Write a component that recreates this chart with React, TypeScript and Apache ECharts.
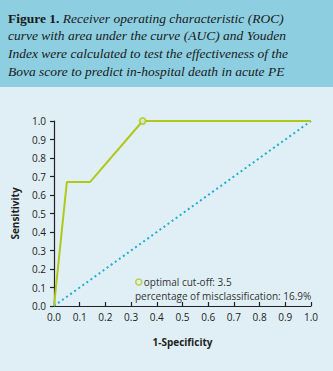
import React, { useEffect, useRef } from "react";
import * as echarts from "echarts";

const titleLines = [
  "Receiver operating characteristic (ROC)",
  "curve with area under the curve (AUC) and Youden",
  "Index were calculated to test the effectiveness of the",
  "Bova score to predict in-hospital death in acute PE",
];
const rocFpr = [0, 0.05, 0.14, 0.345, 1.0];
const rocTpr = [0, 0.67, 0.67, 1.0, 1.0];
const refX = [0, 1];
const refY = [0, 1];
const cutoffPoint = [0.345, 1.0];
const cutoffLabel = "optimal cut-off: 3.5";
const misclassLabel = "percentage of misclassification: 16.9%";
const xTicks = ["0.0", "0.1", "0.2", "0.3", "0.4", "0.5", "0.6", "0.7", "0.8", "0.9", "1.0"];

const GREEN = "#b0c81a";
const BLUE = "#1eaed2";
const BG = "#e0eff6";
const SANS = "'Open Sans', 'Noto Sans', sans-serif";
const SERIF = "'Liberation Serif', 'DejaVu Serif', serif";

export default function App() {
  const ref = useRef<HTMLDivElement>(null);
  useEffect(() => {
    document.body.style.margin = "0";
    const chart = echarts.init(ref.current!, undefined, { renderer: "svg" });
    const fmt = (v: number) => xTicks[Math.round(v * 10)] ?? v.toFixed(1);
    chart.setOption({
      animation: false,
      backgroundColor: BG,
      grid: { left: 54, right: 22, top: 121, bottom: 65 },
      legend: {
        left: 135,
        top: 277,
        itemWidth: 6,
        itemHeight: 6,
        itemGap: 0,
        padding: 0,
        data: [
          {
            name: cutoffLabel,
            icon: "circle",
            itemStyle: { color: BG, borderColor: GREEN, borderWidth: 1.5 },
          },
        ],
        textStyle: {
          fontFamily: SANS,
          fontSize: 10,
          lineHeight: 10,
          color: "#333",
          padding: [0, 0, 0, -3],
        },
      },
      xAxis: {
        type: "value",
        min: 0,
        max: 1,
        interval: 0.1,
        name: "1-Specificity",
        nameLocation: "middle",
        nameGap: 31,
        nameTextStyle: { fontFamily: SANS, fontSize: 10, fontWeight: "bold", color: "#222" },
        axisLine: { lineStyle: { color: "#222", width: 1.2 } },
        axisTick: { inside: true, length: 4, lineStyle: { color: "#222", width: 1.2 } },
        axisLabel: { fontFamily: SANS, fontSize: 10, color: "#222", margin: 6, formatter: fmt },
        splitLine: { show: false },
      },
      yAxis: {
        type: "value",
        min: 0,
        max: 1,
        interval: 0.1,
        name: "Sensitivity",
        nameLocation: "middle",
        nameGap: 34,
        nameTextStyle: { fontFamily: SANS, fontSize: 10, fontWeight: "bold", color: "#222" },
        axisLine: { show: true, lineStyle: { color: "#222", width: 1.2 } },
        axisTick: { show: true, length: 4, lineStyle: { color: "#222", width: 1.2 } },
        axisLabel: { fontFamily: SANS, fontSize: 10, color: "#222", margin: 8, formatter: fmt },
        splitLine: { show: false },
      },
      series: [
        {
          type: "line",
          name: "reference",
          data: refX.map((x, i) => [x, refY[i]]),
          symbol: "none",
          lineStyle: { color: BLUE, width: 2, type: [2, 3] },
          z: 1,
        },
        {
          type: "line",
          name: "ROC",
          data: rocFpr.map((x, i) => [x, rocTpr[i]]),
          symbol: "none",
          lineStyle: { color: GREEN, width: 2 },
          z: 2,
        },
        {
          type: "scatter",
          name: cutoffLabel,
          data: [cutoffPoint],
          symbol: "circle",
          symbolSize: 6,
          itemStyle: { color: BG, borderColor: GREEN, borderWidth: 2 },
          z: 3,
        },
      ],
      graphic: [
        {
          type: "rect",
          shape: { x: 0, y: 0, width: 333, height: 87 },
          style: { fill: "#8dcfe1" },
          z: -1,
        },
        ...titleLines.map((line, i) => ({
          type: "text",
          left: 8,
          top: 11 + i * 17.7,
          style: {
            text: i === 0 ? `{b|Figure 1.} {i|${line}}` : `{i|${line}}`,
            rich: {
              b: { fontFamily: SERIF, fontSize: 13.5, fontWeight: "bold", fill: "#1a1a1a" },
              i: { fontFamily: SERIF, fontSize: 13.5, fontStyle: "italic", fill: "#1a1a1a" },
            },
          },
        })),
        {
          type: "text",
          left: 135,
          top: 291,
          style: {
            text: misclassLabel,
            fontFamily: SANS,
            fontSize: 10,
            lineHeight: 10,
            fill: "#333",
          },
        },
      ],
    });
    return () => chart.dispose();
  }, []);
  return <div ref={ref} style={{ width: 333, height: 371 }} />;
}
